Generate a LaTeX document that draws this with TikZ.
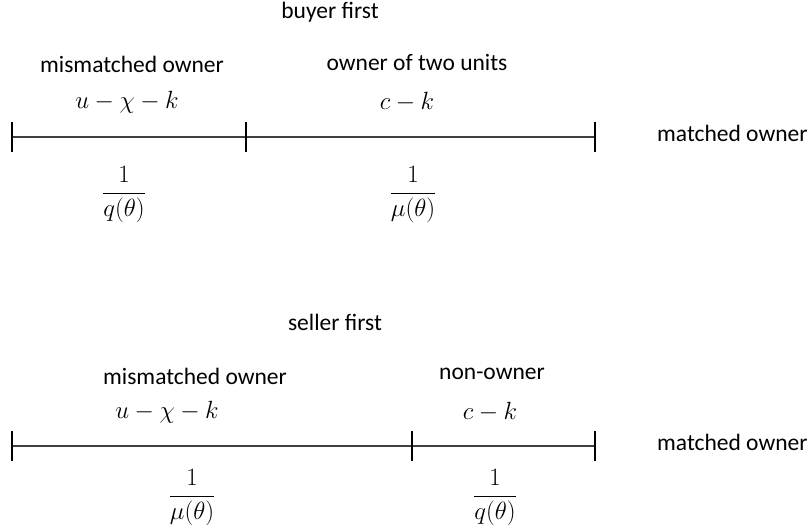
\documentclass[tikz,border=0pt]{standalone}
\usepackage{fontspec}
\setmainfont{Carlito}
\usepackage{amsmath}
\begin{document}
\begin{tikzpicture}[x=1pt,y=-1pt,
  lbl/.style={inner sep=0pt,font=\fontsize{23.5}{28}\selectfont},
  mth/.style={inner sep=0pt,font=\fontsize{23.5}{28}\selectfont},
  axis/.style={draw=black!75,line width=1.1pt},
  tickmark/.style={draw=black,line width=1.1pt}]
\useasboundingbox (0,0) rectangle (812,525);
% ---------- buyer first ----------
\node[lbl] (t1) at (330,12) {buyer first};
\node[lbl] (a1) at (132,64) {mismatched owner};
\node[lbl] (b1) at (417,63) {owner of two units};
\node[mth] (ma1) at (127,102) {$u-\chi-k$};
\node[mth] (mb1) at (407,102) {$c-k$};
\node[lbl,anchor=west] (m1) at (657,133) {matched owner};
\node[mth] (fa1) at (124,195) {$\dfrac{1}{q(\theta)}$};
\node[mth] (fb1) at (413,195) {$\dfrac{1}{\mu(\theta)}$};
\coordinate (p1) at (12,137);
\coordinate (q1) at (246,137);
\coordinate (r1) at (595,137);
\draw[axis] (p1) -- (r1);
\foreach \c in {p1,q1,r1}{\draw[tickmark] ([yshift=-15pt]\c) -- ([yshift=15pt]\c);}
% ---------- seller first ----------
\node[lbl] (t2) at (335,322) {seller first};
\node[lbl] (a2) at (195,376) {mismatched owner};
\node[lbl] (b2) at (492,374) {non-owner};
\node[mth] (ma2) at (167,412) {$u-\chi-k$};
\node[mth] (mb2) at (490,412) {$c-k$};
\node[lbl,anchor=west] (m2) at (657,442) {matched owner};
\node[mth] (fa2) at (192,498) {$\dfrac{1}{\mu(\theta)}$};
\node[mth] (fb2) at (495,498) {$\dfrac{1}{q(\theta)}$};
\coordinate (p2) at (12,446);
\coordinate (q2) at (412,446);
\coordinate (r2) at (595,446);
\draw[axis] (p2) -- (r2);
\foreach \c in {p2,q2,r2}{\draw[tickmark] ([yshift=-15pt]\c) -- ([yshift=15pt]\c);}
\end{tikzpicture}
\end{document}
